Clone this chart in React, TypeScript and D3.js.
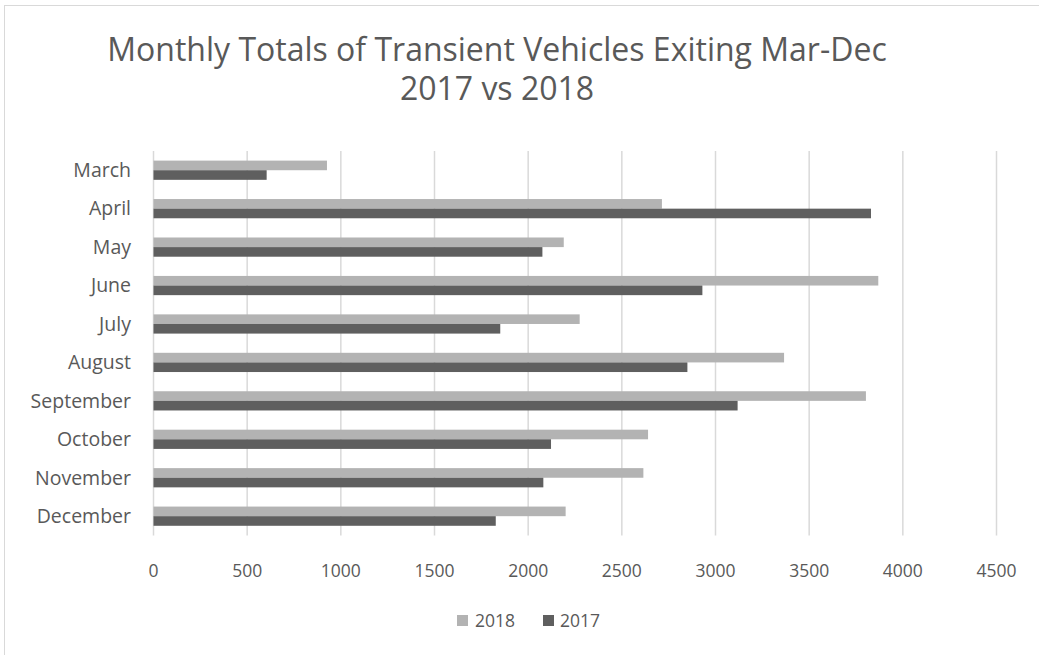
import React from "react";
import * as d3 from "d3";

const months = ["March", "April", "May", "June", "July", "August", "September", "October", "November", "December"];
const values2018 = [926, 2714, 2190, 3869, 2275, 3366, 3803, 2640, 2615, 2200];
const values2017 = [604, 3830, 2076, 2930, 1851, 2850, 3118, 2122, 2081, 1827];
const xTicks = [0, 500, 1000, 1500, 2000, 2500, 3000, 3500, 4000, 4500];
const seriesNames = ["2018", "2017"];
const titleLines = ["Monthly Totals of Transient Vehicles Exiting Mar-Dec", "2017 vs 2018"];

const W = 1039;
const H = 655;
const FONT = "'Open Sans', sans-serif";
const TEXT = "#595959";
const C2018 = "#b3b3b3";
const C2017 = "#5f5f5f";
const GRID = "#d9d9d9";

export default function App() {
  const x = d3.scaleLinear().domain([0, 4500]).range([153.5, 996.5]);
  const y = d3.scaleBand<string>().domain(months).range([151, 535.4]).paddingInner(0.5).paddingOuter(0.25);
  const bw = y.bandwidth() / 2;

  return (
    <svg width={W} height={H} style={{ position: "absolute", left: 0, top: 0, background: "#fff" }} fontFamily={FONT}>
      <rect x={4.5} y={5.5} width={W + 10} height={H + 10} fill="#fff" stroke={GRID} strokeWidth={1} />
      {titleLines.map((t, i) => (
        <text key={t} x={497} y={61 + i * 39} textAnchor="middle" fontSize={32} fill={TEXT}>
          {t}
        </text>
      ))}
      {xTicks.map((t) => (
        <line key={"g" + t} x1={x(t)} x2={x(t)} y1={151} y2={535.4} stroke={GRID} strokeWidth={1.5} />
      ))}
      {months.map((m, i) => (
        <g key={m}>
          <rect x={x(0)} y={y(m)!} width={x(values2018[i]) - x(0)} height={bw} fill={C2018} />
          <rect x={x(0)} y={y(m)! + bw} width={x(values2017[i]) - x(0)} height={bw} fill={C2017} />
          <text x={131} y={y(m)! + y.bandwidth() / 2} dy="0.35em" textAnchor="end" fontSize={19.5} fill={TEXT}>
            {m}
          </text>
        </g>
      ))}
      {xTicks.map((t) => (
        <text key={"t" + t} x={x(t)} y={571} dy="0.35em" textAnchor="middle" fontSize={17.5} fill={TEXT}>
          {t}
        </text>
      ))}
      <g>
        <rect x={457} y={615} width={11} height={11} fill={C2018} />
        <text x={475} y={621} dy="0.35em" fontSize={17.5} fill={TEXT}>{seriesNames[0]}</text>
        <rect x={543} y={615} width={11} height={11} fill={C2017} />
        <text x={560} y={621} dy="0.35em" fontSize={17.5} fill={TEXT}>{seriesNames[1]}</text>
      </g>
    </svg>
  );
}
